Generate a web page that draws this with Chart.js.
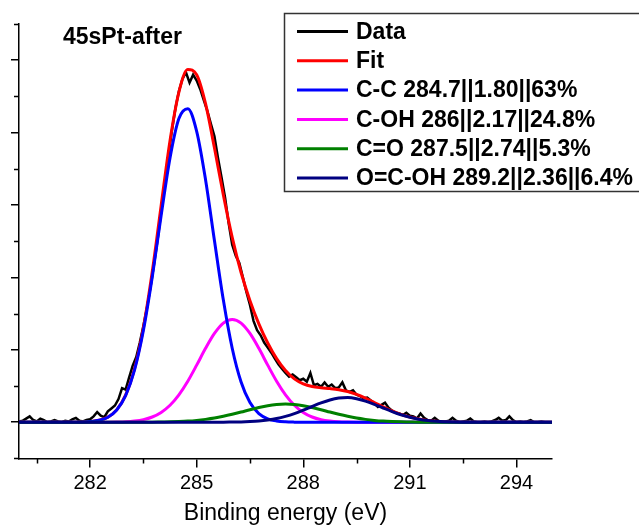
<!DOCTYPE html>
<html>
<head>
<meta charset="utf-8">
<script src="https://cdn.jsdelivr.net/npm/chart.js@4.4.1/dist/chart.umd.min.js"></script>
<style>
  html, body { margin: 0; padding: 0; background: #fff; }
</style>
</head>
<body>
<canvas id="c" width="639" height="527"></canvas>
<script>
// measured spectrum, 0.1 eV steps
const energyData = [
  280.0,280.1,280.2,280.3,280.4,280.5,280.6,280.7,280.8,280.9,
  281.0,281.1,281.2,281.3,281.4,281.5,281.6,281.7,281.8,281.9,
  282.0,282.1,282.2,282.3,282.4,282.5,282.6,282.7,282.8,282.9,
  283.0,283.1,283.2,283.3,283.4,283.5,283.6,283.7,283.8,283.9,
  284.0,284.1,284.2,284.3,284.4,284.5,284.6,284.7,284.8,284.9,
  285.0,285.1,285.2,285.3,285.4,285.5,285.6,285.7,285.8,285.9,
  286.0,286.1,286.2,286.3,286.4,286.5,286.6,286.7,286.8,286.9,
  287.0,287.1,287.2,287.3,287.4,287.5,287.6,287.7,287.8,287.9,
  288.0,288.1,288.2,288.3,288.4,288.5,288.6,288.7,288.8,288.9,
  289.0,289.1,289.2,289.3,289.4,289.5,289.6,289.7,289.8,289.9,
  290.0,290.1,290.2,290.3,290.4,290.5,290.6,290.7,290.8,290.9,
  291.0,291.1,291.2,291.3,291.4,291.5,291.6,291.7,291.8,291.9,
  292.0,292.1,292.2,292.3,292.4,292.5,292.6,292.7,292.8,292.9,
  293.0,293.1,293.2,293.3,293.4,293.5,293.6,293.7,293.8,293.9,
  294.0,294.1,294.2,294.3,294.4,294.5,294.6,294.7,294.8,294.9,
  295.0
];
const intensity = [
  0.01,0.02,0.05,0.08,0.03,0.01,0.05,0.03,0.00,0.01,
  0.03,0.01,0.00,0.02,0.01,0.04,0.06,0.02,0.01,0.03,
  0.04,0.08,0.14,0.09,0.07,0.15,0.19,0.23,0.32,0.47,
  0.45,0.62,0.78,0.90,1.10,1.33,1.58,1.86,2.18,2.52,
  2.90,3.28,3.66,4.02,4.33,4.57,4.74,4.83,4.69,4.80,
  4.72,4.60,4.45,4.30,4.12,3.95,3.65,3.38,3.10,2.75,
  2.45,2.30,2.20,2.00,1.80,1.62,1.40,1.27,1.20,1.10,
  1.03,0.96,0.88,0.80,0.74,0.68,0.63,0.66,0.62,0.58,
  0.60,0.56,0.68,0.51,0.53,0.49,0.55,0.49,0.52,0.47,
  0.48,0.55,0.44,0.42,0.44,0.38,0.36,0.33,0.34,0.30,
  0.26,0.21,0.24,0.27,0.20,0.16,0.13,0.12,0.10,0.13,
  0.09,0.08,0.05,0.12,0.06,0.03,0.02,0.06,0.02,0.00,
  0.01,0.02,0.06,0.02,0.00,0.01,0.02,0.05,0.01,0.00,
  0.00,0.01,0.00,0.01,0.03,0.06,0.02,0.03,0.08,0.03,
  0.00,0.01,0.00,0.01,0.03,0.00,0.00,0.01,0.00,0.00,
  0.00
];

// fitted curves, 0.25 eV steps
const energyFit = [
  280,280.25,280.5,280.75, 281,281.25,281.5,281.75, 282,282.25,282.5,282.75,
  283,283.25,283.5,283.75, 284,284.25,284.5,284.75, 285,285.25,285.5,285.75,
  286,286.25,286.5,286.75, 287,287.25,287.5,287.75, 288,288.25,288.5,288.75,
  289,289.25,289.5,289.75, 290,290.25,290.5,290.75, 291,291.25,291.5,291.75,
  292,292.25,292.5,292.75, 293,293.25,293.5,293.75, 294,294.25,294.5,294.75,
  295
];
const fitTotal = [
  0,0,0,0, 0,0,0,0, 0.009,0.026,0.070,0.171,
  0.373,0.735,1.302,2.078, 2.992,3.889,4.56,4.87, 4.80,4.40,3.79,3.141,
  2.553,2.068,1.679,1.359, 1.094,0.878,0.714,0.598, 0.529,0.492,0.475,0.464,
  0.449,0.424,0.383,0.331, 0.272,0.211,0.156,0.108, 0.071,0.043,0.024,0.013,
  0.007,0.003,0.001,0, 0,0,0,0, 0,0,0,0,
  0
];
const peakCC = [
  0,0,0,0, 0,0,0,0, 0.009,0.026,0.069,0.168,
  0.366,0.718,1.266,2.005, 2.854,3.650,4.194,4.331, 4.018,3.350,2.510,1.690,
  1.022,0.555,0.271,0.119, 0.047,0.017,0.005,0.001, 0,0,0,0,
  0,0,0,0, 0,0,0,0, 0,0,0,0,
  0,0,0,0, 0,0,0,0, 0,0,0,0,
  0
];
const peakCOH = [
  0,0,0,0, 0,0,0,0, 0,0,0.001,0.003,
  0.007,0.017,0.036,0.072, 0.135,0.234,0.378,0.566, 0.788,1.020,1.226,1.369,
  1.420,1.369,1.226,1.020, 0.788,0.566,0.378,0.234, 0.135,0.072,0.036,0.017,
  0.007,0.003,0.001,0, 0,0,0,0, 0,0,0,0,
  0,0,0,0, 0,0,0,0, 0,0,0,0,
  0
];
const peakCO = [
  0,0,0,0, 0,0,0,0, 0,0,0,0,
  0,0,0,0.001, 0.003,0.005,0.009,0.015, 0.025,0.039,0.057,0.081,
  0.109,0.140,0.173,0.203, 0.228,0.244,0.250,0.244, 0.228,0.203,0.173,0.140,
  0.109,0.081,0.057,0.039, 0.025,0.015,0.009,0.005, 0.003,0.001,0,0,
  0,0,0,0, 0,0,0,0, 0,0,0,0,
  0
];
const peakOCOH = [
  0,0,0,0, 0,0,0,0, 0,0,0,0,
  0,0,0,0, 0,0,0,0, 0,0,0,0,
  0.002,0.004,0.009,0.017, 0.031,0.051,0.081,0.119, 0.166,0.217,0.266,0.307,
  0.333,0.340,0.325,0.292, 0.247,0.196,0.147,0.103, 0.068,0.042,0.024,0.013,
  0.007,0.003,0.001,0, 0,0,0,0, 0,0,0,0,
  0
];

const seriesLabels = [
  "Data",
  "Fit",
  "C-C 284.7||1.80||63%",
  "C-OH 286||2.17||24.8%",
  "C=O 287.5||2.74||5.3%",
  "O=C-OH 289.2||2.36||6.4%",
];
const seriesColors = ["#000000", "#ff0000", "#0000ff", "#ff00ff", "#008000", "#000080"];

const xMajor = [282, 285, 288, 291, 294];
const xMinor = [280.5, 283.5, 286.5, 289.5, 292.5];
const yMajor = [0, 1, 2, 3, 4, 5];
const yMinor = [-0.5, 0.5, 1.5, 2.5, 3.5, 4.5, 5.5];

const plotTitle = "45sPt-after";
const xTitle = "Binding energy (eV)";

const FONT = 'Arial, "Liberation Sans", sans-serif';
Chart.defaults.font.family = FONT;
Chart.defaults.color = "#000";

const pairs = (xs, ys) => xs.map((x, i) => ({ x, y: ys[i] }));

// minor ticks, in-plot title and the boxed legend
const extras = {
  id: "extras",
  afterDraw(chart) {
    const { ctx, chartArea: a, scales } = chart;
    ctx.save();
    ctx.strokeStyle = "#000";
    ctx.lineWidth = 1.5;
    ctx.beginPath();
    xMinor.forEach((v) => {
      const px = Math.round(scales.x.getPixelForValue(v)) + 0.5;
      ctx.moveTo(px, a.bottom);
      ctx.lineTo(px, a.bottom + 5);
    });
    yMinor.forEach((v) => {
      const py = Math.round(scales.y.getPixelForValue(v)) + 0.5;
      ctx.moveTo(a.left, py);
      ctx.lineTo(a.left - 5, py);
    });
    ctx.stroke();

    ctx.fillStyle = "#000";
    ctx.font = "bold 23px " + FONT;
    ctx.textBaseline = "middle";
    ctx.fillText(plotTitle, 63, 38);

    // legend
    ctx.fillStyle = "#fff";
    ctx.fillRect(284, 13, 360, 179);
    ctx.strokeStyle = "#333";
    ctx.lineWidth = 1.5;
    ctx.strokeRect(284.5, 13.5, 360, 178);
    chart.data.datasets.forEach((ds, i) => {
      const yy = 31.5 + i * 29.3;
      ctx.strokeStyle = ds.borderColor;
      ctx.lineWidth = 3;
      ctx.beginPath();
      ctx.moveTo(297, yy);
      ctx.lineTo(348, yy);
      ctx.stroke();
      ctx.fillStyle = "#000";
      ctx.fillText(ds.label, 356, yy + 1);
    });
    ctx.restore();
  },
};

const curve = (i, data, order) => ({
  label: seriesLabels[i],
  data,
  borderColor: seriesColors[i],
  borderWidth: 3,
  pointRadius: 0,
  fill: false,
  cubicInterpolationMode: "monotone",
  order,
});

new Chart(document.getElementById("c"), {
  type: "line",
  data: {
    datasets: [
      { ...curve(0, pairs(energyData, intensity), 6), borderWidth: 2.5, cubicInterpolationMode: "default", tension: 0 },
      curve(1, pairs(energyFit, fitTotal), 5),
      curve(2, pairs(energyFit, peakCC), 3),
      curve(3, pairs(energyFit, peakCOH), 4),
      curve(4, pairs(energyFit, peakCO), 2),
      curve(5, pairs(energyFit, peakOCOH), 1),
    ],
  },
  options: {
    responsive: false,
    animation: false,
    devicePixelRatio: 1,
    layout: { padding: { top: 24, left: 11, right: 87, bottom: 0 } },
    plugins: { legend: { display: false }, tooltip: { enabled: false } },
    scales: {
      x: {
        type: "linear",
        min: 280,
        max: 295,
        afterBuildTicks: (s) => { s.ticks = xMajor.map((v) => ({ value: v })); },
        ticks: { font: { size: 20 }, padding: 4, maxRotation: 0 },
        grid: { drawOnChartArea: false, drawTicks: true, tickLength: 9, color: "#000", lineWidth: 1.5 },
        border: { display: true, color: "#000", width: 1.5 },
        title: { display: true, text: xTitle, font: { size: 23 }, padding: { top: 0, bottom: 0 } },
      },
      y: {
        type: "linear",
        min: -0.5,
        max: 5.5,
        afterBuildTicks: (s) => { s.ticks = yMajor.map((v) => ({ value: v })); },
        ticks: { display: false },
        grid: { drawOnChartArea: false, drawTicks: true, tickLength: 8, color: "#000", lineWidth: 1.5 },
        border: { display: true, color: "#000", width: 1.5 },
      },
    },
  },
  plugins: [extras],
});
</script>
</body>
</html>
